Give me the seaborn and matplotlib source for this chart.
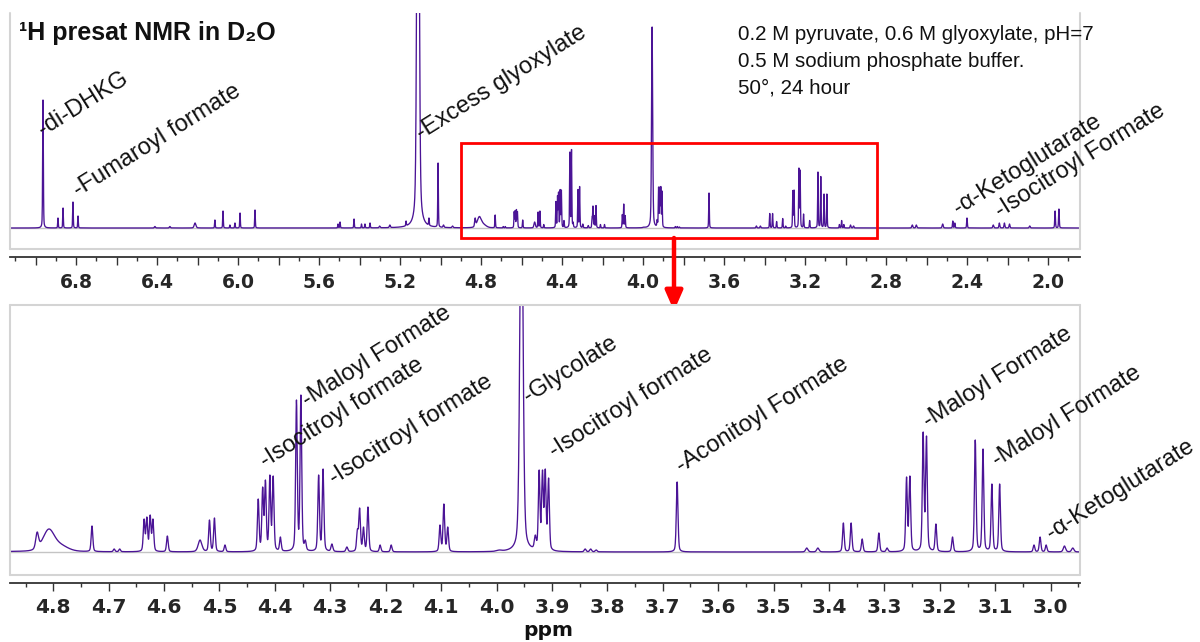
import numpy as np
import pandas as pd
import matplotlib
matplotlib.use("Agg")
import matplotlib.pyplot as plt
from matplotlib.ticker import FixedLocator, FixedFormatter
from matplotlib.patches import Rectangle
import seaborn as sns

# ---------------- data: peak list (ppm, observed height, FWHM ppm) ----------------
peak_ppm = [6.963, 6.889, 6.864, 6.815, 6.790, 6.410, 6.336, 6.212, 6.114, 6.074,
            6.040, 6.015, 5.990, 5.916, 5.506, 5.496, 5.427, 5.390, 5.373, 5.348,
            5.300, 5.250, 5.170, 5.111, 5.057, 5.012, 4.985, 4.940,
            4.829, 4.808, 4.785, 4.730, 4.690, 4.680, 4.636, 4.631, 4.625, 4.620,
            4.594, 4.535, 4.518, 4.509, 4.490, 4.430, 4.422, 4.417, 4.409, 4.403,
            4.390, 4.361, 4.353, 4.345, 4.321, 4.313, 4.297, 4.270, 4.251, 4.247,
            4.240, 4.232, 4.210, 4.190, 4.102, 4.095, 4.088, 3.995, 3.955, 3.930,
            3.923, 3.917, 3.912, 3.906, 3.840, 3.830, 3.820, 3.674, 3.440, 3.420,
            3.374, 3.360, 3.340, 3.310, 3.295, 3.260, 3.254, 3.230, 3.224, 3.207,
            3.177, 3.136, 3.122, 3.106, 3.092, 3.030, 3.019, 3.008, 2.975, 2.960,
            2.670, 2.650, 2.520, 2.470, 2.460, 2.400, 2.270, 2.240, 2.215, 2.190,
            2.090, 1.965, 1.946]
peak_height = [256, 20, 40, 52, 24, 3, 3, 10, 16, 34,
               6, 10, 30, 36, 8, 12, 18, 8, 8, 10,
               4, 6, 14, 1300, 20, 130, 6, 4,
               20, 23, 8, 26, 3, 3, 33, 35, 37, 33,
               16, 12, 32, 34, 7, 53, 65, 72, 77, 76,
               15, 152, 157, 12, 77, 83, 8, 5, 23, 44,
               25, 45, 7, 7, 27, 48, 25, 2, 402, 17,
               82, 82, 83, 74, 3, 3, 2, 70, 4, 4,
               29, 29, 13, 19, 4, 75, 76, 120, 116, 28,
               15, 112, 103, 68, 68, 7, 15, 7, 6, 4,
               6, 6, 8, 14, 10, 20, 6, 10, 10, 8,
               4, 34, 38]
peak_fwhm = [0.004, 0.0035, 0.0035, 0.0035, 0.0035, 0.006, 0.006, 0.010, 0.0035, 0.0035,
             0.0035, 0.0035, 0.0035, 0.0035, 0.0035, 0.0035, 0.0035, 0.0035, 0.0035, 0.0035,
             0.006, 0.006, 0.0035, 0.012, 0.0035, 0.0035, 0.006, 0.006,
             0.006, 0.025, 0.030, 0.0035, 0.0035, 0.0035, 0.0035, 0.0035, 0.0035, 0.0035,
             0.0035, 0.008, 0.0035, 0.0035, 0.0035, 0.0035, 0.0035, 0.0035, 0.0035, 0.0035,
             0.0035, 0.0035, 0.0035, 0.0035, 0.0035, 0.0035, 0.004, 0.004, 0.0035, 0.0035,
             0.0035, 0.0035, 0.0035, 0.0035, 0.0035, 0.0035, 0.0035, 0.010, 0.0065, 0.004,
             0.0035, 0.0035, 0.0035, 0.0035, 0.004, 0.004, 0.004, 0.0035, 0.005, 0.005,
             0.0035, 0.0035, 0.0035, 0.0035, 0.004, 0.0035, 0.0035, 0.0035, 0.0035, 0.0035,
             0.0035, 0.0035, 0.0035, 0.0035, 0.0035, 0.0035, 0.0035, 0.0035, 0.005, 0.005,
             0.006, 0.006, 0.006, 0.004, 0.004, 0.004, 0.006, 0.005, 0.005, 0.005,
             0.006, 0.004, 0.004]

# annotations: text, ppm, intensity anchor
top_label_text = ["-di-DHKG", "-Fumaroyl formate", "-Excess glyoxylate",
                  "-\u03b1-Ketoglutarate", "-Isocitroyl Formate"]
top_label_ppm = [6.963, 6.790, 5.096, 2.444, 2.237]
top_label_int = [184, 62, 176, 26, 20]

bot_label_text = ["-Maloyl Formate", "-Isocitroyl formate", "-Isocitroyl formate",
                  "-Glycolate", "-Isocitroyl formate", "-Aconitoyl Formate",
                  "-Maloyl Formate", "-Maloyl Formate", "-\u03b1-Ketoglutarate"]
bot_label_ppm = [4.342, 4.418, 4.293, 3.943, 3.896, 3.667, 3.221, 3.097, 2.999]
bot_label_int = [145, 84, 67, 149, 94, 79, 124, 85, 12]

top_tick_values = [6.8, 6.4, 6.0, 5.6, 5.2, 4.8, 4.4, 4.0, 3.6, 3.2, 2.8, 2.4, 2.0]
top_tick_labels = ["6.8", "6.4", "6.0", "5.6", "5.2", "4.8", "4.4", "4.0", "3.6",
                   "3.2", "2.8", "2.4", "2.0"]
bot_tick_values = [4.8, 4.7, 4.6, 4.5, 4.4, 4.3, 4.2, 4.1, 4.0, 3.9, 3.8, 3.7, 3.6,
                   3.5, 3.4, 3.3, 3.2, 3.1, 3.0]
bot_tick_labels = ["4.8", "4.7", "4.6", "4.5", "4.4", "4.3", "4.2", "4.1", "4.0",
                   "3.9", "3.8", "3.7", "3.6", "3.5", "3.4", "3.3", "3.2", "3.1", "3.0"]

title_text = "\u00b9H presat NMR in D\u2082O"
cond_lines = ["0.2 M pyruvate, 0.6 M glyoxylate, pH=7",
              "0.5 M sodium phosphate buffer.",
              "50\u00b0, 24 hour"]

# ---------------- build spectrum from the peak list ----------------
def pv(x, c, w, eta=0.35):
    u = (x - c) / w
    return eta / (1 + 4 * u ** 2) + (1 - eta) * np.exp(-4 * np.log(2) * u ** 2)

P = np.array(peak_ppm)
H = np.array(peak_height, float)
W = np.array(peak_fwhm)
M = pv(P[:, None], P[None, :], W[None, :])
amp = np.clip(np.linalg.solve(M, H), 0, None)
ppm = np.arange(1.80, 7.20, 0.0002)
spec = np.zeros_like(ppm)
for a, c, w in zip(amp, P, W):
    spec += a * pv(ppm, c, w)
df = pd.DataFrame({"ppm": ppm, "intensity": spec})

# ---------------- figure ----------------
sns.set_theme(style="white")
plt.rcParams["font.family"] = ["Liberation Sans", "DejaVu Sans"]
fig = plt.figure(figsize=(12, 6.42), dpi=100)

LINE = "#4B1496"
BOX = "#d4d4d4"
AXC = "#333333"
LABEL_FS = 17

ax1 = fig.add_axes([10 / 1200, 1 - 249 / 642, 1070 / 1200, 236 / 642])
ax2 = fig.add_axes([10 / 1200, 1 - 575 / 642, 1070 / 1200, 270 / 642])

for ax in (ax1, ax2):
    ax.set_facecolor("white")
    sns.lineplot(data=df, x="ppm", y="intensity", ax=ax, color=LINE, lw=0.95,
                 estimator=None, sort=False)
    ax.axhline(0, color="#c4c4c4", lw=1.0, zorder=0)
    ax.set_xlabel("")
    ax.set_ylabel("")
    ax.set_yticks([])
    for s in ("left", "right", "top"):
        ax.spines[s].set_visible(False)
    ax.spines["bottom"].set_position(("outward", 6))
    ax.spines["bottom"].set_color(AXC)
    ax.spines["bottom"].set_linewidth(1.3)
    ax.tick_params(axis="x", which="major", direction="out", length=5.5, width=1,
                   color=AXC, bottom=True)
    ax.tick_params(axis="x", which="minor", direction="out", length=3, width=1,
                   color=AXC, bottom=True)
    # gray frame
    ax.plot([0, 0], [0, 1], transform=ax.transAxes, color=BOX, lw=1.5, clip_on=False)
    ax.plot([1, 1], [0, 1], transform=ax.transAxes, color=BOX, lw=1.5, clip_on=False)
    ax.plot([0, 1], [0, 0], transform=ax.transAxes, color=BOX, lw=1.5, clip_on=False)

ax2.plot([0, 1], [1, 1], transform=ax2.transAxes, color=BOX, lw=1.5, clip_on=False)

ax1.set_xlim(7.126, 1.842)
ax1.set_ylim(-42, 430)
ax2.set_xlim(4.878, 2.947)
ax2.set_ylim(-23, 247)

# top ticks: long every 0.2 (labels every 0.4), short every 0.1
major1 = np.round(np.arange(2.0, 7.11, 0.2), 2)
lab1 = [top_tick_labels[top_tick_values.index(v)] if v in top_tick_values else ""
        for v in major1]
ax1.xaxis.set_major_locator(FixedLocator(major1))
ax1.xaxis.set_major_formatter(FixedFormatter(lab1))
ax1.xaxis.set_minor_locator(FixedLocator(np.round(np.arange(1.9, 7.11, 0.2), 2)))
ax1.tick_params(axis="x", labelsize=13.5, pad=6)
for t in ax1.get_xticklabels():
    t.set_fontfamily("DejaVu Sans")
    t.set_fontweight("bold")

ax2.xaxis.set_major_locator(FixedLocator(bot_tick_values))
ax2.xaxis.set_major_formatter(FixedFormatter(bot_tick_labels))
ax2.xaxis.set_minor_locator(FixedLocator(np.round(np.arange(2.95, 4.88, 0.1), 2)))
ax2.tick_params(axis="x", labelsize=14.5, pad=5)
for t in ax2.get_xticklabels():
    t.set_fontfamily("DejaVu Sans")
    t.set_fontweight("bold")

# annotations
ROT = 32
for txt, x, y in zip(top_label_text, top_label_ppm, top_label_int):
    ax1.text(x, y, txt, rotation=ROT, rotation_mode="anchor", ha="left",
             va="baseline", fontsize=LABEL_FS, color="#111111", clip_on=False)
for txt, x, y in zip(bot_label_text, bot_label_ppm, bot_label_int):
    ax2.text(x, y, txt, rotation=ROT, rotation_mode="anchor", ha="left",
             va="baseline", fontsize=LABEL_FS, color="#111111", clip_on=False)

# red zoom box and arrow
ax1.add_patch(Rectangle((4.90, -20), 2.845 - 4.90, 190, fill=False, lw=2.0,
                        edgecolor="#ff0000", clip_on=False, zorder=5))
ax1.annotate("", xy=(674 / 1200, 1 - 311 / 642), xytext=(674 / 1200, 1 - 238 / 642),
             xycoords="figure fraction", textcoords="figure fraction",
             arrowprops=dict(arrowstyle="-|>,head_width=0.35,head_length=0.8",
                             mutation_scale=15, lw=3.2, color="#ff0000",
                             shrinkA=0, shrinkB=0))

# texts
fig.text(19 / 1200, 1 - 40 / 642, title_text, fontsize=18, fontweight="bold",
         ha="left", va="baseline", color="#111111")
for i, line in enumerate(cond_lines):
    fig.text(738 / 1200, 1 - (40 + 27 * i) / 642, line, fontsize=14.8,
             ha="left", va="baseline", color="#111111")
fig.text(548 / 1200, 1 - 631 / 642, "ppm", fontsize=14.5, fontweight="bold",
         family="DejaVu Sans", ha="center", va="center", color="#111111")

fig.savefig("out.png", dpi=100, facecolor="white")
